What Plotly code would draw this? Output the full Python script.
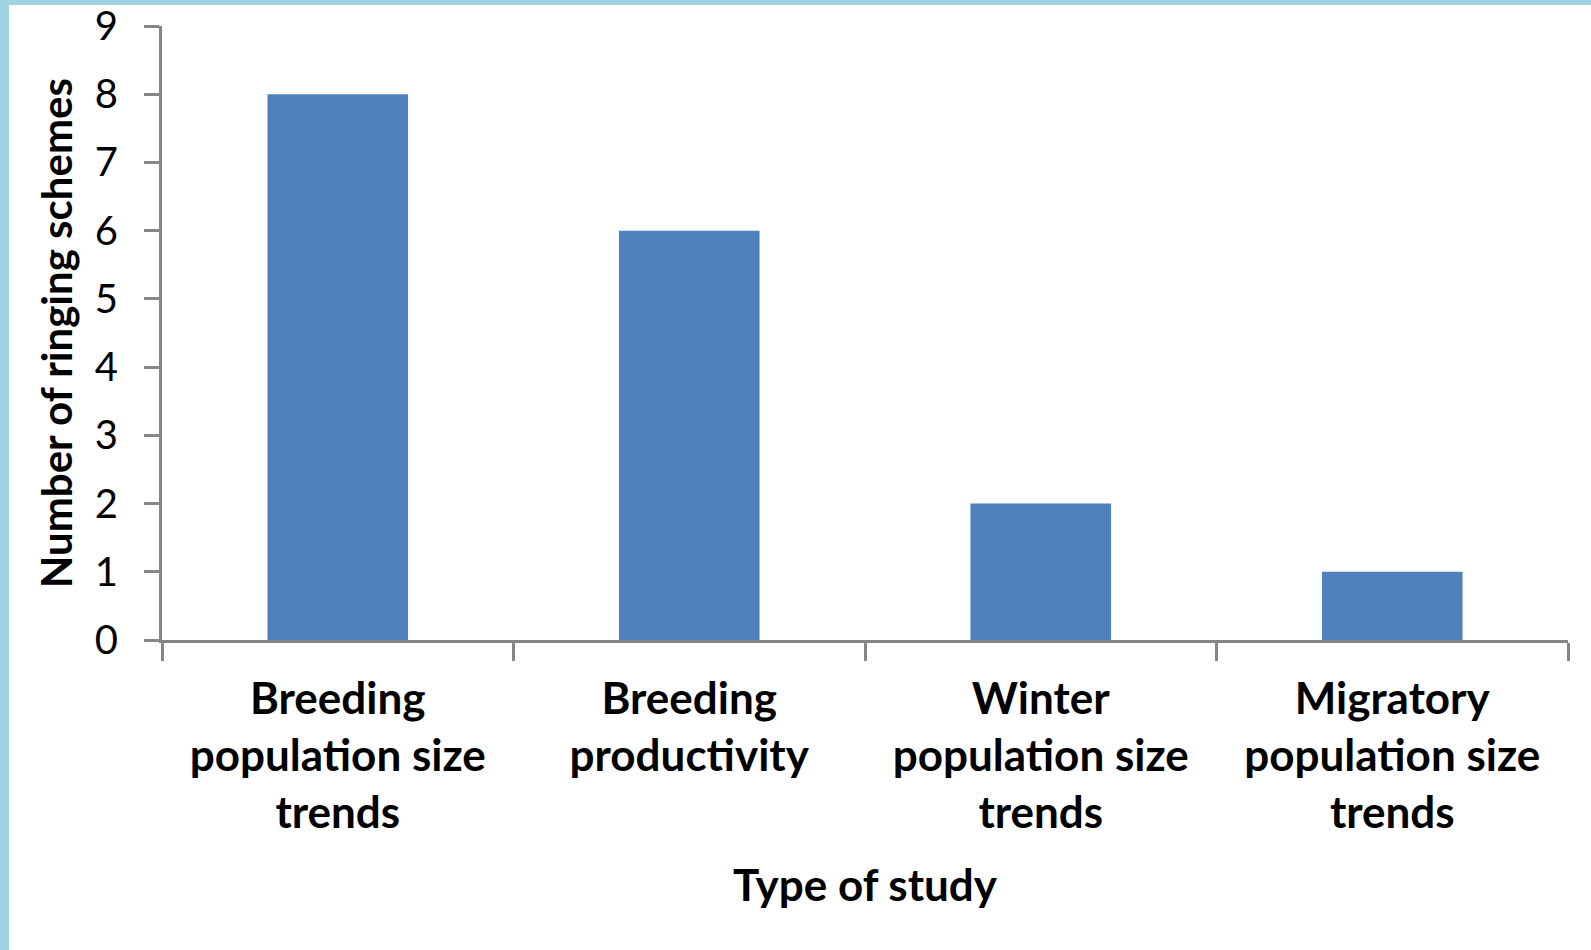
import plotly.graph_objects as go

categories = ["Breeding<br>population size<br>trends", "Breeding<br>productivity",
              "Winter<br>population size<br>trends", "Migratory<br>population size<br>trends"]
values = [8, 6, 2, 1]
y_ticks = list(range(0, 10))

W, H = 1591, 950
L, R, T, B = 162, 23, 26, 310
pw, ph = W - L - R, H - T - B

fig = go.Figure(go.Bar(x=categories, y=values, marker=dict(color="#4F81BD", line=dict(width=0)), width=0.4))

font_family = "Lato, Open Sans, sans-serif"
fig.update_layout(
    width=W, height=H,
    margin=dict(l=L, r=R, t=T, b=B, pad=0),
    paper_bgcolor="white", plot_bgcolor="white",
    showlegend=False,
    font=dict(family=font_family, color="black"),
    xaxis=dict(
        automargin=False,
        showline=True, linecolor="#868686", linewidth=3,
        ticks="outside", tickson="boundaries", ticklen=18, tickwidth=3, tickcolor="#868686",
        tickfont=dict(size=44, family=font_family, weight="bold"),
        ticklabelstandoff=18,
        title=dict(text="<b>Type of study</b>", font=dict(size=44), standoff=34),
        showgrid=False, zeroline=False,
    ),
    yaxis=dict(
        automargin=False,
        range=[0, 9], tickvals=y_ticks,
        showline=True, linecolor="#868686", linewidth=3,
        ticks="outside", ticklen=15, tickwidth=3, tickcolor="#868686",
        tickfont=dict(size=40),
        ticklabelstandoff=18,
        title=dict(text="<b>Number of ringing schemes</b>", font=dict(size=42), standoff=10),
        showgrid=False, zeroline=False,
    ),
    shapes=[
        dict(type="rect", xref="paper", yref="paper",
             x0=-L / pw, x1=(9 - L) / pw, y0=-B / ph, y1=(H - B) / ph,
             fillcolor="#A0D3E0", line=dict(width=0), layer="above"),
        dict(type="rect", xref="paper", yref="paper",
             x0=-L / pw, x1=(W - L) / pw, y0=(H - B - 5) / ph, y1=(H - B) / ph,
             fillcolor="#A0D3E0", line=dict(width=0), layer="above"),
    ],
)

fig.write_html("out.html", config={"displayModeBar": False},
               post_script="document.body.style.margin='0';")
